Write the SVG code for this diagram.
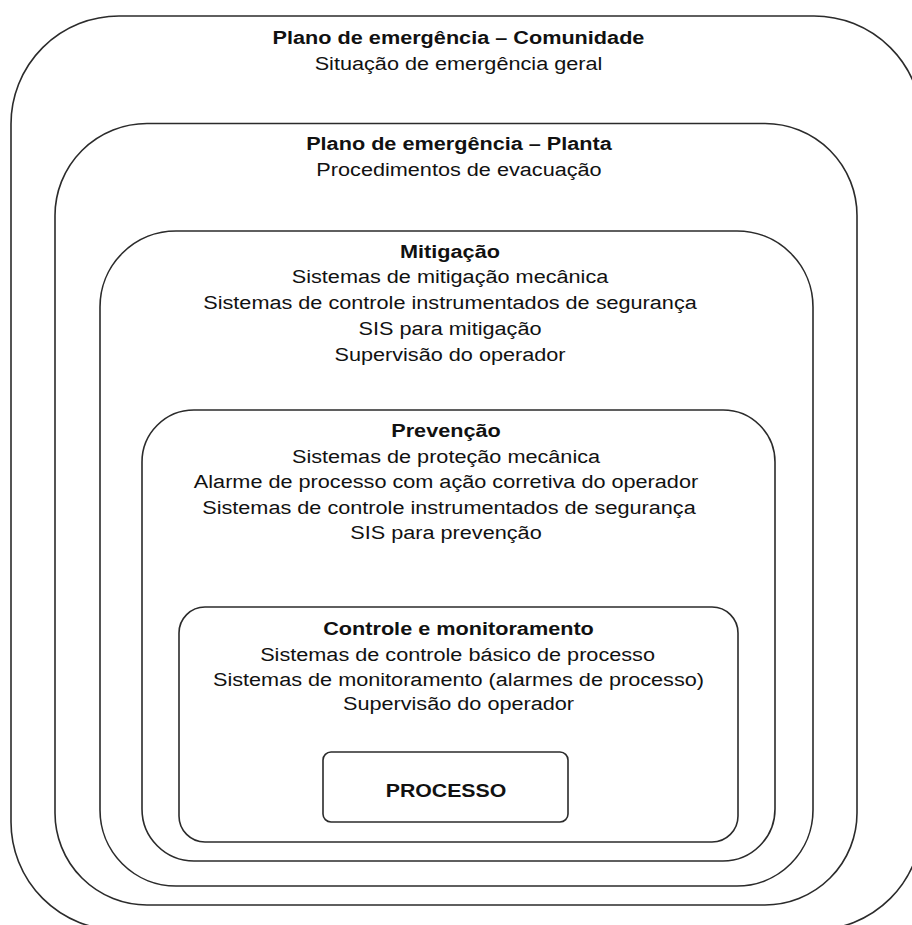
<svg xmlns="http://www.w3.org/2000/svg" width="912" height="925" viewBox="0 0 912 925">
  <style>
    .layer { fill: none; stroke: #2b2b2b; stroke-width: 1.6; }
    text { font-family: "Liberation Sans", Arial, sans-serif; font-size: 18.2px; fill: #111; text-anchor: middle; }
    .title { font-weight: bold; }
  </style>
  <rect width="912" height="925" fill="#ffffff"/>

  <!-- Nested protection layers, outermost first -->
  <g id="comunidade">
    <rect class="layer" x="11" y="16" width="911" height="914" rx="108" ry="108"/>
    <g transform="translate(458.5 0) scale(1.19 1)">
      <text class="title" x="0" y="44">Plano de emergência – Comunidade</text>
      <text x="0" y="70">Situação de emergência geral</text>
    </g>
  </g>

  <g id="planta">
    <rect class="layer" x="55" y="123.5" width="802" height="781.5" rx="92" ry="92"/>
    <g transform="translate(459 0) scale(1.19 1)">
      <text class="title" x="0" y="150.5">Plano de emergência – Planta</text>
      <text x="0" y="176.5">Procedimentos de evacuação</text>
    </g>
  </g>

  <g id="mitigacao">
    <rect class="layer" x="100" y="231" width="713" height="655" rx="76" ry="76"/>
    <g transform="translate(450 0) scale(1.19 1)">
      <text class="title" x="0" y="257.7">Mitigação</text>
      <text x="0" y="283.5">Sistemas de mitigação mecânica</text>
      <text x="0" y="309.5">Sistemas de controle instrumentados de segurança</text>
      <text x="0" y="335">SIS para mitigação</text>
      <text x="0" y="360.8">Supervisão do operador</text>
    </g>
  </g>

  <g id="prevencao">
    <rect class="layer" x="142" y="410" width="633" height="451" rx="52" ry="52"/>
    <g transform="translate(446 0) scale(1.19 1)">
      <text class="title" x="0" y="436.7">Prevenção</text>
      <text x="0" y="462.7">Sistemas de proteção mecânica</text>
      <text x="0" y="488.3">Alarme de processo com ação corretiva do operador</text>
      <text x="2.5" y="514">Sistemas de controle instrumentados de segurança</text>
      <text x="0" y="539.3">SIS para prevenção</text>
    </g>
  </g>

  <g id="controle">
    <rect class="layer" x="179" y="607" width="559" height="235" rx="26" ry="26"/>
    <g transform="translate(458.5 0) scale(1.19 1)">
      <text class="title" x="0" y="635">Controle e monitoramento</text>
      <text x="-0.8" y="660.7">Sistemas de controle básico de processo</text>
      <text x="0" y="686">Sistemas de monitoramento (alarmes de processo)</text>
      <text x="0" y="710.5">Supervisão do operador</text>
    </g>
  </g>

  <g id="processo">
    <rect class="layer" x="323" y="752" width="245" height="70" rx="8" ry="8"/>
    <g transform="translate(446 0) scale(1.17 1)">
      <text class="title" x="0" y="796.7">PROCESSO</text>
    </g>
  </g>

  <!-- No connectors: the layers are shown purely by nesting -->
  <g id="connectors"/>
</svg>
